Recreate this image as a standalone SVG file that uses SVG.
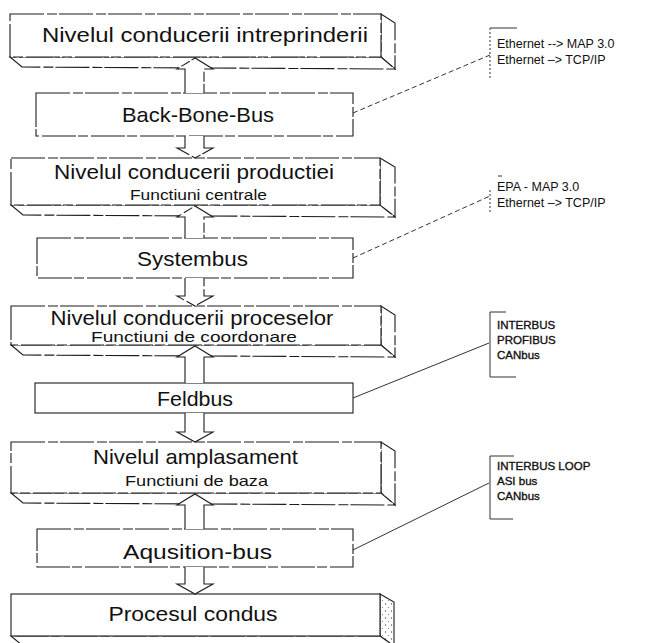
<svg xmlns="http://www.w3.org/2000/svg" width="646" height="643" viewBox="0 0 646 643">
  <style>
    .face{fill:#fff;stroke:#1c1c1c;stroke-width:1.1;stroke-linejoin:miter}
    .worn{stroke-dasharray:34 3 10 2}
    .bus{fill:#fff;stroke:#1c1c1c;stroke-width:1.1}
    .lbl{font-family:"Liberation Sans",Arial,Helvetica,sans-serif;font-size:21px;fill:#111;text-anchor:middle}
    .sub{font-size:15px}
    .note{font-family:"Liberation Sans",Arial,Helvetica,sans-serif;font-size:12.5px;fill:#111}
    .heavy{font-size:11.5px;stroke:#111;stroke-width:0.35}
    .arrow{fill:#fff;stroke:#1c1c1c;stroke-width:1.1;stroke-linejoin:miter}
    .leader{fill:none;stroke:#333;stroke-width:1}
    .dash{stroke-dasharray:5 3}
    .dot{stroke-dasharray:2 2}
  </style>
  <defs>
    <pattern id="stipple" width="6" height="7" patternUnits="userSpaceOnUse">
      <rect width="6" height="7" fill="#fff"/>
      <circle cx="1.5" cy="2" r="0.7" fill="#555"/>
      <circle cx="4.5" cy="5.5" r="0.6" fill="#777"/>
    </pattern>
  </defs>

  <!-- level slabs: front face, right face, bottom face -->
  <g id="nivel-intreprindere">
    <polygon class="face worn" points="381,14 395,23 395,69 381,57"/>
    <polygon class="face worn" points="10,57 22,67 395,69 381,57"/>
    <rect class="face worn" x="10" y="14" width="371" height="43"/>
    <text class="lbl" x="205" y="42" textLength="326" lengthAdjust="spacingAndGlyphs">Nivelul conducerii intreprinderii</text>
  </g>

  <g id="back-bone-bus">
    <rect class="bus worn" x="36" y="93" width="317" height="43"/>
    <text class="lbl" x="198" y="122" textLength="152" lengthAdjust="spacingAndGlyphs">Back-Bone-Bus</text>
  </g>

  <g id="nivel-productie">
    <polygon class="face worn" points="380,158 395,167 395,217 380,205"/>
    <polygon class="face worn" points="11,205 23,215 395,217 380,205"/>
    <rect class="face worn" x="11" y="158" width="369" height="47"/>
    <text class="lbl" x="194" y="179" textLength="280" lengthAdjust="spacingAndGlyphs">Nivelul conducerii productiei</text>
    <text class="lbl sub" x="198.5" y="200" textLength="137" lengthAdjust="spacingAndGlyphs">Functiuni centrale</text>
  </g>

  <g id="systembus">
    <rect class="bus worn" x="37" y="238" width="316" height="40"/>
    <text class="lbl" x="192.5" y="266" textLength="111" lengthAdjust="spacingAndGlyphs">Systembus</text>
  </g>

  <g id="nivel-procese">
    <polygon class="face worn" points="381,306 395,315 395,357 381,345"/>
    <polygon class="face worn" points="11,345 23,355 395,357 381,345"/>
    <rect class="face worn" x="11" y="306" width="370" height="39"/>
    <text class="lbl" x="192" y="325" textLength="283" lengthAdjust="spacingAndGlyphs">Nivelul conducerii proceselor</text>
    <text class="lbl sub" x="194" y="342" textLength="206" lengthAdjust="spacingAndGlyphs">Functiuni de coordonare</text>
  </g>

  <g id="feldbus">
    <rect class="bus" x="35" y="383" width="318" height="30"/>
    <text class="lbl" x="195" y="406" textLength="76" lengthAdjust="spacingAndGlyphs">Feldbus</text>
  </g>

  <g id="nivel-amplasament">
    <polygon class="face worn" points="381,442 395,451 395,505 381,493"/>
    <polygon class="face worn" points="11,493 23,503 395,505 381,493"/>
    <rect class="face worn" x="11" y="442" width="370" height="51"/>
    <text class="lbl" x="195.5" y="464" textLength="205" lengthAdjust="spacingAndGlyphs">Nivelul amplasament</text>
    <text class="lbl sub" x="196.5" y="486" textLength="143" lengthAdjust="spacingAndGlyphs">Functiuni de baza</text>
  </g>

  <g id="aqusition-bus">
    <rect class="bus worn" x="37" y="529" width="316" height="38"/>
    <text class="lbl" x="197.5" y="559" textLength="149" lengthAdjust="spacingAndGlyphs">Aqusition-bus</text>
  </g>

  <g id="proces-condus">
    <polygon class="face" points="380,594 394,602 394,646 380,636" style="fill:url(#stipple)"/>
    <polygon class="face worn" points="11,636 23,646 394,646 380,636"/>
    <rect class="face" x="11" y="594" width="369" height="42"/>
    <text class="lbl" x="193" y="621" textLength="169" lengthAdjust="spacingAndGlyphs">Procesul condus</text>
  </g>

  <!-- bus-to-level block arrows and leader lines to the protocol notes -->
  <g id="connectors">
    <path class="arrow worn" d="M185,93 V69 H177 L195,58 L213,69 H204 V93"/>
    <path class="arrow worn" d="M185,136 V148 H177 L195,158 L213,148 H204 V136"/>
    <path class="arrow worn" d="M185,238 V217 H177 L195,206 L213,217 H204 V238"/>
    <path class="arrow worn" d="M185,278 V296 H177 L195,306 L213,296 H204 V278"/>
    <path class="arrow" d="M185,383 V357 H177 L195,346 L213,357 H204 V383"/>
    <path class="arrow" d="M185,413 V432 H177 L195,442 L213,432 H204 V413"/>
    <path class="arrow" d="M185,529 V505 H177 L195,494 L213,505 H204 V529"/>
    <path class="arrow" d="M185,567 V584 H177 L195,594 L213,584 H204 V567"/>

    <path class="leader dash" d="M353,113 L490,55"/>
    <path class="leader dash" d="M353,258 L490,196"/>
    <path class="leader" d="M353,398 L489,343"/>
    <path class="leader" d="M353,550 L489,483"/>
  </g>

  <g id="note-backbone">
    <path class="leader" d="M490,28 H517"/>
    <path class="leader dot" d="M490,28 V80"/>
    <text class="note" x="497" y="48">Ethernet --&gt; MAP 3.0</text>
    <text class="note" x="497" y="64">Ethernet –&gt; TCP/IP</text>
  </g>

  <g id="note-systembus">
    <path class="leader" d="M498,176 H502"/>
    <path class="leader dot" d="M490,190 V212"/>
    <text class="note" x="497" y="191">EPA - MAP 3.0</text>
    <text class="note" x="497" y="207">Ethernet –&gt; TCP/IP</text>
  </g>

  <g id="note-feldbus">
    <path class="leader" d="M506,312 H490 V377 H516"/>
    <text class="note heavy" x="497" y="329">INTERBUS</text>
    <text class="note heavy" x="497" y="344">PROFIBUS</text>
    <text class="note heavy" x="497" y="359">CANbus</text>
  </g>

  <g id="note-aqusition">
    <path class="leader" d="M514,456 H490 V519 H513"/>
    <text class="note heavy" x="497" y="470">INTERBUS LOOP</text>
    <text class="note heavy" x="497" y="485">ASI bus</text>
    <text class="note heavy" x="497" y="500">CANbus</text>
  </g>
</svg>
